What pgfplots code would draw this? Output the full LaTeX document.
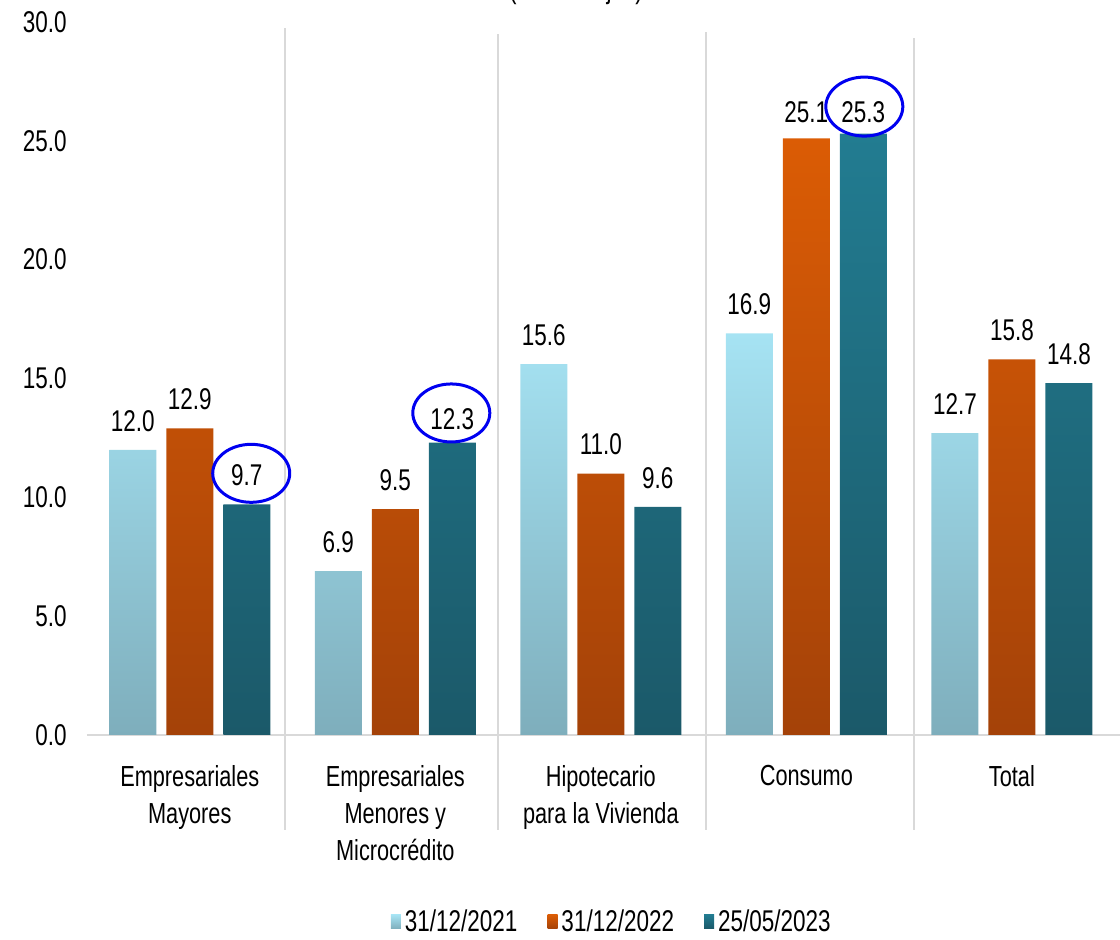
\documentclass[border=0pt]{standalone}
\usepackage{pgfplots}
\pgfplotsset{compat=1.18}
\usepackage{pgfplotstable}
\usepackage{fontspec}
\setmainfont[FakeStretch=0.75]{Liberation Sans}
\definecolor{lbT}{RGB}{166,227,243}
\definecolor{lbB}{RGB}{126,174,188}
\definecolor{orT}{RGB}{219,92,5}
\definecolor{orB}{RGB}{164,66,8}
\definecolor{tlT}{RGB}{34,124,145}
\definecolor{tlB}{RGB}{27,89,105}
\definecolor{sepc}{RGB}{217,217,217}
\definecolor{circ}{RGB}{0,0,240}

\pgfplotstableread{
x y off
0 12.0 9
1 6.9 9
2 15.6 9
3 16.9 9
4 12.7 9
}\tA
\pgfplotstableread{
x y off
0 12.9 9
1 9.5 9
2 11.0 9
3 25.1 7.5
4 15.8 9
}\tB
\pgfplotstableread{
x y off
0 9.7 9
1 12.3 6
2 9.6 9
3 25.3 5.4
4 14.8 9
}\tC

\begin{document}
\begin{tikzpicture}
\begin{axis}[
 at={(0,0)}, anchor=south west,
 scale only axis, width=516.5pt, height=356.5pt,
 xmin=-0.5, xmax=4.526, ymin=0, ymax=30,
 axis lines=left,
 x axis line style={-, draw=sepc, line width=1pt},
 y axis line style={draw=none},
 major tick length=0pt,
 ytick={0,5,...,30},
 yticklabel style={/pgf/number format/.cd, fixed, fixed zerofill, precision=1, assume math mode=true, /tikz/.cd, anchor=east, inner sep=0pt, xshift=-10pt, font=\fontsize{15}{17}\selectfont},
 xtick={0,...,4},
 xticklabels={{Empresariales\\Mayores},{Empresariales\\Menores y\\Microcrédito},{Hipotecario\\para la Vivienda},{Consumo},{Total}},
 xticklabel style={align=center, anchor=north, inner sep=0pt, yshift=-15pt, font=\fontsize{14.5}{18.5}\selectfont},
 ybar=5pt, bar width=23.5pt,
 clip=false,
 nodes near coords={\pgfmathprintnumber[assume math mode=true,fixed,fixed zerofill,precision=1]{\pgfplotspointmeta}},
 visualization depends on={\thisrow{off}\as\myoff},
 every node near coord/.append style={anchor=south, inner sep=0pt, yshift=\myoff pt, font=\fontsize{15}{17}\selectfont, text=black},
 legend columns=3,
 legend style={at={(0.509,-0.262)}, anchor=center, draw=none, fill=none, font=\fontsize{15}{17}\selectfont, /tikz/every even column/.append style={column sep=13pt}},
 legend image code/.code={\path (0pt,-3.5pt) rectangle (5pt,3.5pt);},
]
\addplot[draw=none, top color=lbT, bottom color=lbB] table[x=x,y=y]{\tA};
\addplot[draw=none, top color=orT, bottom color=orB] table[x=x,y=y]{\tB};
\addplot[draw=none, top color=tlT, bottom color=tlB] table[x=x,y=y]{\tC};
\legend{31/12/2021, 31/12/2022, 25/05/2023}
\draw[sepc, line width=1pt] (axis cs:0.462,29.74) -- (axis cs:0.462,-4.0);
\draw[sepc, line width=1pt] (axis cs:1.499,29.49) -- (axis cs:1.499,-4.0);
\draw[sepc, line width=1pt] (axis cs:2.511,29.57) -- (axis cs:2.511,-4.0);
\draw[sepc, line width=1pt] (axis cs:3.523,29.32) -- (axis cs:3.523,-4.0);
\draw[circ, line width=1.5pt] (axis cs:0.299,11.01) ellipse [x radius=19.25pt, y radius=14.5pt];
\draw[circ, line width=1.5pt] (axis cs:1.2725,13.55) ellipse [x radius=19.25pt, y radius=14.5pt];
\draw[circ, line width=1.5pt] (axis cs:3.282,26.44) ellipse [x radius=19.25pt, y radius=14.75pt];
\end{axis}
\node[anchor=base, inner sep=0pt, font=\fontsize{15}{17}\selectfont] at (244.5pt,368pt) {(Porcentajes)};
\pgfresetboundingbox
\path[use as bounding box] (-43.5pt,-102.5pt) rectangle (516.5pt,367.5pt);
\end{tikzpicture}
\end{document}
